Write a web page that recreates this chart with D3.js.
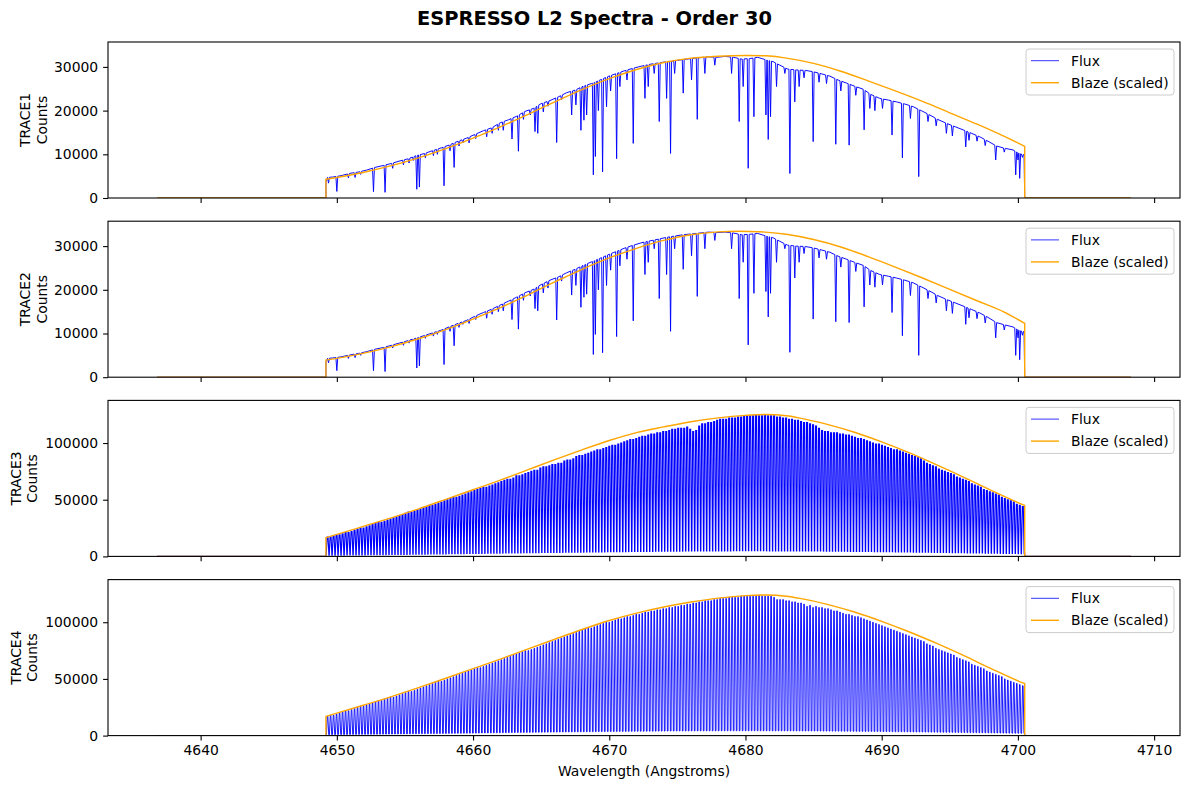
<!DOCTYPE html>
<html><head><meta charset="utf-8">
<script src="https://cdn.jsdelivr.net/npm/d3@7"></script>
<style>
body{margin:0;background:#fff}
svg{display:block}
text{font-family:"DejaVu Sans",sans-serif}
</style></head>
<body><svg id="chart" width="1189" height="788"></svg>
<script>
// ---------------- DATA ----------------
const chartTitle = "ESPRESSO L2 Spectra - Order 30";
const traceNames = ["TRACE1", "TRACE2", "TRACE3", "TRACE4"];
const xLabel = "Wavelength (Angstroms)";
const legendLabels = ["Flux", "Blaze (scaled)"];
const xTicks = [4640, 4650, 4660, 4670, 4680, 4690, 4700, 4710];
const yTicksLow = [0, 10000, 20000, 30000];
const yTicksHigh = [0, 50000, 100000];
const xDomain = [4633.2, 4711.9];
const yMaxLow = 35700, yMaxHigh = 137600;
const waveRange = [4636.8, 4708.3];      // full wavelength grid of the order
const orderRange = [4649.2, 4700.5];     // illuminated part of the order

// TRACE1 continuum [wavelength, counts]
const trace1Continuum = [[4649.20,3600],[4649.30,4700],[4649.70,4800],[4650.30,5100],[4650.97,5650],[4651.60,5950],[4652.20,6400],[4652.80,7000],[4653.42,7450],[4654.00,7900],[4654.64,8500],[4655.20,8950],[4655.87,9750],[4656.40,10150],[4657.09,10900],[4657.70,11500],[4658.31,12200],[4658.90,13000],[4659.53,13700],[4660.10,14500],[4660.76,15400],[4661.40,16100],[4661.98,17200],[4662.60,17900],[4663.20,18700],[4663.80,19800],[4664.43,20500],[4665.00,21600],[4665.65,22300],[4666.30,23200],[4666.87,24100],[4667.50,24700],[4668.09,25600],[4668.70,26200],[4669.32,27000],[4669.90,27800],[4670.54,28500],[4671.10,29100],[4671.76,29700],[4672.40,30200],[4672.99,30600],[4673.60,30900],[4674.21,31200],[4674.80,31400],[4675.43,31700],[4676.04,31900],[4676.65,32100],[4677.30,32300],[4677.90,32200],[4678.50,32400],[4679.10,32200],[4679.70,31800],[4680.30,31900],[4680.90,32200],[4681.30,31800],[4682.03,31200],[4682.52,30400],[4683.10,29500],[4683.75,29300],[4684.40,29200],[4684.97,28900],[4685.60,28400],[4686.19,27900],[4686.80,27000],[4687.42,26300],[4688.00,25600],[4688.64,24900],[4689.20,23700],[4689.86,22800],[4690.50,22400],[4691.08,22000],[4691.70,21500],[4692.31,20900],[4692.90,20000],[4693.53,19000],[4694.10,18000],[4694.75,17100],[4695.40,16300],[4695.97,15600],[4696.60,14800],[4697.20,14000],[4697.80,13000],[4698.42,11900],[4699.00,11400],[4699.64,11000],[4700.10,10200],[4700.45,9900]];
// TRACE1 absorption lines [wavelength, minimum counts]
const trace1Lines = [[4649.39,3400],[4650.00,1500],[4650.85,4600],[4651.34,4700],[4651.75,5400],[4652.69,1450],[4653.54,1300],[4654.10,6800],[4654.89,7600],[4655.30,8000],[4655.62,8600],[4655.87,2000],[4656.06,2500],[4656.50,9200],[4657.09,9700],[4657.38,10000],[4657.87,2800],[4658.31,10800],[4658.61,7000],[4658.97,11900],[4659.25,12600],[4659.71,12600],[4660.20,13600],[4661.00,14000],[4661.40,14800],[4661.86,15500],[4662.22,15500],[4662.86,13500],[4663.33,10700],[4663.70,18000],[4664.20,19000],[4664.55,15200],[4664.75,14800],[4665.16,19700],[4665.50,21000],[4666.14,12700],[4666.50,22500],[4667.24,19000],[4667.55,21300],[4667.92,15500],[4668.14,17800],[4668.34,19000],[4668.83,5300],[4668.98,9500],[4669.20,20000],[4669.51,6000],[4669.80,20900],[4670.10,24500],[4670.54,9000],[4670.78,25500],[4671.30,27000],[4671.76,12500],[4672.62,22800],[4672.86,25500],[4673.30,28500],[4673.67,17500],[4674.21,22800],[4674.50,10200],[4674.80,28500],[4675.43,24000],[4676.04,27000],[4676.46,18000],[4677.02,28500],[4677.75,30400],[4678.98,28500],[4679.54,17500],[4679.83,25500],[4680.20,6800],[4680.62,18600],[4681.50,19000],[4681.67,13400],[4681.84,18600],[4682.28,25500],[4682.89,28500],[4683.26,5600],[4683.62,22000],[4683.94,25500],[4684.30,27500],[4684.97,12900],[4685.40,26500],[4685.95,26200],[4686.63,12300],[4687.00,24500],[4687.61,12100],[4688.10,23500],[4688.71,15600],[4689.13,20500],[4689.50,20000],[4690.06,20500],[4690.76,14400],[4691.52,9200],[4692.11,18200],[4692.72,4900],[4693.40,17500],[4694.00,16500],[4694.75,14800],[4695.19,14200],[4696.17,11700],[4696.41,13200],[4697.00,13000],[4697.60,12000],[4698.37,8700],[4699.00,10500],[4699.84,5300],[4700.01,8700],[4700.13,4500],[4700.33,9300]];
// TRACE1 blaze (scaled) [wavelength, counts]
const trace1Blaze = [[4649.2,4300],[4650,4700],[4652,5900],[4654,7400],[4656,9200],[4658,11300],[4660,13700],[4662,16300],[4664,19100],[4666,22000],[4668,24800],[4670,27300],[4672,29400],[4674,31000],[4676,32000],[4678,32450],[4680,32600],[4681.5,32550],[4683,32000],[4685,30800],[4687,29000],[4689,26800],[4691,24500],[4693,22100],[4695,19500],[4697,16900],[4699,14100],[4700.5,11800]];

// TRACE2
const trace2Continuum = [[4649.20,3500],[4649.30,4300],[4649.70,4400],[4650.30,4650],[4650.97,5100],[4651.60,5450],[4652.20,5850],[4652.80,6400],[4653.42,6800],[4654.00,7300],[4654.64,7850],[4655.20,8350],[4655.87,9000],[4656.40,9500],[4657.09,10200],[4657.70,10800],[4658.31,11600],[4658.90,12300],[4659.53,13000],[4660.10,13900],[4660.76,14800],[4661.40,15600],[4661.98,16500],[4662.60,17400],[4663.20,18300],[4663.80,19300],[4664.43,20100],[4665.00,21200],[4665.65,22200],[4666.30,23000],[4666.87,23900],[4667.50,24700],[4668.09,25600],[4668.70,26400],[4669.32,27200],[4669.90,28000],[4670.54,28800],[4671.10,29500],[4671.76,30200],[4672.40,30800],[4672.99,31200],[4673.60,31600],[4674.21,32000],[4674.80,32300],[4675.43,32600],[4676.04,32800],[4676.65,33000],[4677.30,33200],[4677.90,33100],[4678.50,33200],[4679.10,33000],[4679.70,32600],[4680.30,32700],[4680.90,32900],[4681.30,32500],[4682.03,31900],[4682.52,31100],[4683.10,30200],[4683.75,30000],[4684.40,29900],[4684.97,29600],[4685.60,29100],[4686.19,28600],[4686.80,27700],[4687.42,27000],[4688.00,26300],[4688.64,25600],[4689.20,24400],[4689.86,23500],[4690.50,23100],[4691.08,22700],[4691.70,22200],[4692.31,21600],[4692.90,20700],[4693.53,19700],[4694.10,18700],[4694.75,17800],[4695.40,17000],[4695.97,16300],[4696.60,15500],[4697.20,14700],[4697.80,13700],[4698.42,12500],[4699.00,12000],[4699.64,11500],[4700.10,10700],[4700.45,10400]];
const trace2Lines = [[4649.39,3300],[4650.00,1500],[4650.85,4300],[4651.34,4500],[4651.75,5000],[4652.69,1500],[4653.54,1300],[4654.10,6700],[4654.89,7300],[4655.30,7800],[4655.62,8400],[4655.87,2100],[4656.06,2600],[4656.50,8900],[4657.09,9400],[4657.38,9800],[4657.87,2900],[4658.31,10500],[4658.61,7200],[4658.97,11400],[4659.25,12100],[4659.71,12300],[4660.20,13200],[4661.00,13500],[4661.40,14400],[4661.86,15000],[4662.22,15200],[4662.86,13200],[4663.33,11000],[4663.70,17600],[4664.20,18600],[4664.55,15700],[4664.75,15200],[4665.16,19300],[4665.50,20400],[4666.14,13100],[4666.50,22000],[4667.24,18800],[4667.55,21000],[4667.92,16000],[4668.14,18300],[4668.34,19000],[4668.83,5200],[4668.98,9800],[4669.20,20000],[4669.51,5600],[4669.80,21000],[4670.10,24500],[4670.54,9300],[4670.78,25500],[4671.30,27000],[4671.76,12900],[4672.62,23500],[4672.86,26300],[4673.30,29400],[4673.67,18000],[4674.21,23500],[4674.50,10500],[4674.80,29400],[4675.43,24700],[4676.04,27800],[4676.46,18500],[4677.02,29400],[4677.75,31300],[4678.98,29400],[4679.54,18000],[4679.83,26300],[4680.20,7400],[4680.62,19200],[4681.50,19600],[4681.67,13800],[4681.84,19200],[4682.28,26300],[4682.89,29400],[4683.26,5700],[4683.62,22700],[4683.94,26300],[4684.30,28300],[4684.97,13300],[4685.40,27300],[4685.95,27000],[4686.63,12700],[4687.00,25200],[4687.61,12500],[4688.10,24200],[4688.71,16100],[4689.13,21100],[4689.50,20600],[4690.06,21100],[4690.76,14800],[4691.52,9500],[4692.11,18700],[4692.72,5000],[4693.40,18000],[4694.00,17000],[4694.75,15200],[4695.19,14600],[4696.17,12100],[4696.41,13600],[4697.00,13400],[4697.60,12400],[4698.37,9000],[4699.00,10800],[4699.84,5000],[4700.01,9000],[4700.13,4000],[4700.33,9600]];
const trace2Blaze = [[4649.2,3900],[4650,4300],[4652,5500],[4654,7000],[4656,8800],[4658,10900],[4660,13300],[4662,15900],[4664,18800],[4666,21800],[4668,24700],[4670,27300],[4672,29500],[4674,31300],[4676,32600],[4678,33250],[4679.5,33400],[4681,33300],[4683,32700],[4685,31500],[4687,29800],[4689,27600],[4691,25200],[4693,22700],[4695,20100],[4697,17500],[4699,14900],[4700.5,12300]];

// Fabry-Perot comb lines (TRACE3 / TRACE4), wavelengths
const combWave = [
4649.32,4649.54,4649.76,4649.98,4650.20,4650.42,4650.64,4650.86,4651.08,4651.30,
4651.52,4651.74,4651.96,4652.18,4652.40,4652.62,4652.84,4653.06,4653.28,4653.50,
4653.72,4653.94,4654.16,4654.38,4654.60,4654.82,4655.04,4655.26,4655.48,4655.70,
4655.92,4656.14,4656.36,4656.58,4656.80,4657.02,4657.24,4657.46,4657.68,4657.90,
4658.12,4658.34,4658.56,4658.78,4659.00,4659.22,4659.44,4659.66,4659.88,4660.10,
4660.32,4660.54,4660.76,4660.98,4661.20,4661.42,4661.64,4661.86,4662.08,4662.30,
4662.52,4662.74,4662.96,4663.18,4663.40,4663.62,4663.84,4664.06,4664.28,4664.50,
4664.72,4664.94,4665.16,4665.38,4665.60,4665.82,4666.04,4666.26,4666.48,4666.70,
4666.92,4667.14,4667.36,4667.58,4667.80,4668.02,4668.24,4668.46,4668.68,4668.90,
4669.12,4669.34,4669.56,4669.78,4670.00,4670.22,4670.44,4670.66,4670.88,4671.10,
4671.32,4671.54,4671.76,4671.98,4672.20,4672.42,4672.64,4672.86,4673.08,4673.30,
4673.52,4673.74,4673.96,4674.18,4674.40,4674.62,4674.84,4675.06,4675.28,4675.50,
4675.72,4675.94,4676.16,4676.38,4676.60,4676.82,4677.04,4677.26,4677.48,4677.70,
4677.92,4678.14,4678.36,4678.58,4678.80,4679.02,4679.24,4679.46,4679.68,4679.90,
4680.12,4680.34,4680.56,4680.78,4681.00,4681.22,4681.44,4681.66,4681.88,4682.10,
4682.32,4682.54,4682.76,4682.98,4683.20,4683.42,4683.64,4683.86,4684.08,4684.30,
4684.52,4684.74,4684.96,4685.18,4685.40,4685.62,4685.84,4686.06,4686.28,4686.50,
4686.72,4686.94,4687.16,4687.38,4687.60,4687.82,4688.04,4688.26,4688.48,4688.70,
4688.92,4689.14,4689.36,4689.58,4689.80,4690.02,4690.24,4690.46,4690.68,4690.90,
4691.12,4691.34,4691.56,4691.78,4692.00,4692.22,4692.44,4692.66,4692.88,4693.10,
4693.32,4693.54,4693.76,4693.98,4694.20,4694.42,4694.64,4694.86,4695.08,4695.30,
4695.52,4695.74,4695.96,4696.18,4696.40,4696.62,4696.84,4697.06,4697.28,4697.50,
4697.72,4697.94,4698.16,4698.38,4698.60,4698.82,4699.04,4699.26,4699.48,4699.70,
4699.92,4700.14,4700.36];
// comb peak heights, thousands of counts
const trace3PeakK = [
17,17,18,19,19,20,21,21,22,23,24,25,25,26,27,28,29,30,30,31,32,33,34,35,36,37,38,39,39,40,41,42,43,44,45,45,46,47,48,49,50,51,52,52,53,54,55,56,57,58,
59,60,61,61,62,63,64,65,66,67,68,68,69,71,71,72,73,74,75,76,76,78,79,79,80,81,81,82,82,84,85,85,86,88,89,89,90,91,92,93,94,94,95,96,97,98,98,99,100,101,
102,103,103,104,105,106,106,107,108,108,109,109,110,110,111,112,112,113,113,113,114,112,110,111,115,117,117,118,118,119,120,121,121,121,122,122,122,123,123,124,124,124,124,125,124,124,125,124,124,124,
123,123,122,122,121,121,120,120,119,118,118,117,116,115,113,111,110,110,109,109,109,108,108,107,107,106,105,104,104,103,102,101,100,99,99,98,97,96,95,94,94,93,92,91,90,89,88,87,86,84,
82,81,80,79,77,76,75,74,73,72,70,69,68,67,66,64,63,62,61,59,58,57,56,55,54,52,51,50,49,48,46,45,44];
const trace4PeakK = [
17,18,18,19,20,21,22,22,23,24,25,26,26,27,28,29,30,31,31,32,33,34,34,35,36,37,38,39,39,40,41,42,43,44,45,46,47,48,48,49,50,51,52,53,54,55,56,57,58,59,
60,60,61,62,63,64,65,66,67,68,69,70,71,72,73,74,75,75,76,77,78,79,80,81,82,83,84,85,86,87,88,89,90,91,92,93,94,95,95,96,97,98,99,100,100,101,102,103,103,104,
105,105,106,107,107,108,109,109,110,110,111,111,112,112,113,113,114,114,115,115,116,116,117,117,118,118,119,119,119,120,120,121,121,121,122,122,122,122,123,123,123,123,123,123,124,123,123,123,123,122,
120,120,120,119,119,118,118,117,117,116,114,115,113,114,113,113,112,112,111,110,110,109,108,107,107,106,105,105,104,103,102,101,100,99,98,97,96,95,94,93,92,91,90,89,88,87,86,85,84,83,
81,80,79,77,76,75,74,73,72,71,69,68,67,66,65,63,62,61,60,59,57,56,55,54,53,52,50,49,48,47,46,45,44];
// inter-line background level, thousands of counts
const trace3BaseK = [[4649.2,1.0],[4655,1.8],[4660,2.6],[4665,3.4],[4670,4.1],[4675,4.7],[4680,5.0],[4685,4.8],[4690,4.2],[4695,3.4],[4700.5,2.4]];
const trace4BaseK = [[4649.2,0.8],[4655,1.5],[4660,2.2],[4665,3.0],[4670,3.6],[4675,4.1],[4680,4.3],[4685,4.1],[4690,3.6],[4695,2.9],[4700.5,2.0]];
// blaze (scaled), thousands of counts
const trace3BlazeK = [[4649.2,16.5],[4650,19.4],[4652,26.7],[4654,34.0],[4656,41.9],[4658,50.3],[4660,58.8],[4662,67.3],[4664,76.3],[4666,85.3],[4668,94.0],[4670,102.2],[4672,109.2],[4674,114.2],[4676,118.8],[4678,122.2],[4680,124.4],[4681.5,125.2],[4683,124.0],[4684,122.0],[4686,116.5],[4688,109.5],[4690,101.0],[4692,91.5],[4694,81.0],[4696,70.0],[4698,58.5],[4700,47.5],[4700.5,45.0]];
const trace4BlazeK = [[4649.2,17.0],[4650,19.8],[4652,27.0],[4654,34.4],[4656,42.3],[4658,50.6],[4660,59.0],[4662,67.5],[4664,76.3],[4666,85.0],[4668,93.6],[4670,101.5],[4672,108.0],[4674,113.4],[4676,117.8],[4678,121.3],[4680,123.5],[4681.5,124.0],[4683,122.9],[4684,121.0],[4686,115.8],[4688,109.0],[4690,100.8],[4692,91.6],[4694,81.5],[4696,70.7],[4698,59.3],[4700,48.3],[4700.5,45.9]];

// ---------------- BUILD SERIES ----------------
const LINE_HW = 0.07;
function absorptionSeries(cont, lines) {
  const c = d3.scaleLinear().domain(cont.map(d => d[0])).range(cont.map(d => d[1]));
  const pts = cont.filter(k => !lines.some(l => Math.abs(l[0] - k[0]) < LINE_HW * 1.3)).map(d => [d[0], d[1]]);
  lines.forEach(([w, m]) => { pts.push([w - LINE_HW, c(w - LINE_HW)], [w, m], [w + LINE_HW, c(w + LINE_HW)]); });
  pts.sort((a, b) => a[0] - b[0]);
  return [[waveRange[0], 0], [orderRange[0], 0]].concat(pts, [[orderRange[1], 0], [waveRange[1], 0]]);
}
// each comb line drawn as a narrow profile: foot half-width hw, top half-width tw
function combSeries(waves, peaksK, baseK, hw, tw) {
  const b = d3.scaleLinear().domain(baseK.map(d => d[0])).range(baseK.map(d => d[1] * 1000));
  const pts = [[waveRange[0], 0], [orderRange[0], 0], [orderRange[0], b(orderRange[0])]];
  waves.forEach((w, i) => {
    const pk = peaksK[i] * 1000;
    pts.push([w - hw, b(w - hw)], [w - tw, pk], [w + tw, pk], [w + hw, b(w + hw)]);
  });
  pts.push([orderRange[1], b(orderRange[1])], [orderRange[1], 0], [waveRange[1], 0]);
  return pts;
}
const kToCounts = arr => arr.map(d => [d[0], d[1] * 1000]);

const panels = [
  {name: traceNames[0], yMax: yMaxLow, yTicks: yTicksLow, flux: absorptionSeries(trace1Continuum, trace1Lines), blaze: trace1Blaze, fw: 0.95, labX: 46.5},
  {name: traceNames[1], yMax: yMaxLow, yTicks: yTicksLow, flux: absorptionSeries(trace2Continuum, trace2Lines), blaze: trace2Blaze, fw: 0.95, labX: 46.5},
  {name: traceNames[2], yMax: yMaxHigh, yTicks: yTicksHigh, flux: combSeries(combWave, trace3PeakK, trace3BaseK, 0.1, 0.035), blaze: kToCounts(trace3BlazeK), fw: 1.15, labX: 37},
  {name: traceNames[3], yMax: yMaxHigh, yTicks: yTicksHigh, flux: combSeries(combWave, trace4PeakK, trace4BaseK, 0.085, 0.02), blaze: kToCounts(trace4BlazeK), fw: 0.9, labX: 37}
];

// ---------------- DRAW ----------------
const svg = d3.select("#chart");
const L = 108, R = 1180, TOP0 = 42, PH = 156, STEP = 179.2, FS = 13.9;
const x = d3.scaleLinear().domain(xDomain).range([L, R]);
const defs = svg.append("defs");

svg.append("text").attr("x", 594.5).attr("y", 25).attr("text-anchor", "middle")
  .attr("font-size", 19.4).attr("font-weight", "bold").text(chartTitle);

panels.forEach((p, i) => {
  const top = TOP0 + i * STEP, bottom = top + PH;
  const y = d3.scaleLinear().domain([0, p.yMax]).range([bottom, top]);
  defs.append("clipPath").attr("id", "clip" + i).append("rect")
    .attr("x", L).attr("y", top).attr("width", R - L).attr("height", PH);
  const g = svg.append("g");
  const line = d3.line().x(d => x(d[0])).y(d => y(d[1]));
  g.append("path").attr("clip-path", `url(#clip${i})`).attr("d", line(p.flux))
    .attr("fill", "none").attr("stroke", "#0000ff").attr("stroke-width", p.fw).attr("stroke-linejoin", "miter");
  const curve = d3.line().x(d => x(d[0])).y(d => y(d[1])).curve(d3.curveMonotoneX)(p.blaze);
  const bd = `M${x(waveRange[0])},${y(0)}L${x(orderRange[0])},${y(0)}L` + curve.slice(1) +
    `L${x(orderRange[1])},${y(0)}L${x(waveRange[1])},${y(0)}`;
  g.append("path").attr("clip-path", `url(#clip${i})`).attr("d", bd)
    .attr("fill", "none").attr("stroke", "#ffa500").attr("stroke-width", 1.4);

  // axes
  const ya = g.append("g").attr("transform", `translate(${L},0)`)
    .call(d3.axisLeft(y).tickValues(p.yTicks).tickSize(4.9).tickPadding(4.9).tickFormat(d3.format("d")));
  const xa = g.append("g").attr("transform", `translate(0,${bottom})`)
    .call(d3.axisBottom(x).tickValues(xTicks).tickSize(4.9).tickPadding(4.9)
      .tickFormat(i === 3 ? d3.format("d") : () => ""));
  [ya, xa].forEach(a => {
    a.select(".domain").remove();
    a.attr("font-family", null).attr("font-size", null);
    a.selectAll("line").attr("stroke", "#000").attr("stroke-width", 1.1);
    a.selectAll("text").attr("fill", "#000").attr("font-size", FS).attr("font-family", "DejaVu Sans, sans-serif");
  });
  g.append("rect").attr("x", L).attr("y", top).attr("width", R - L).attr("height", PH)
    .attr("fill", "none").attr("stroke", "#000").attr("stroke-width", 1.1);

  // y label (two lines)
  const cy = top + PH / 2;
  [[p.name, p.labX - 16.5], ["Counts", p.labX]].forEach(([t, bx]) => {
    g.append("text").attr("transform", `translate(${bx},${cy}) rotate(-90)`)
      .attr("text-anchor", "middle").attr("font-size", FS).text(t);
  });

  // legend
  const lx = R - 6 - 148, ly = top + 7;
  const lg = g.append("g");
  lg.append("rect").attr("x", lx).attr("y", ly).attr("width", 148).attr("height", 46).attr("rx", 3)
    .attr("fill", "#fff").attr("fill-opacity", 0.8).attr("stroke", "#cccccc").attr("stroke-width", 1);
  [["#0000ff", 0.8, legendLabels[0], 11.7, 16.7], ["#ffa500", 1.4, legendLabels[1], 33.7, 38.5]].forEach(([c, w, t, lyOff, tyOff]) => {
    lg.append("line").attr("x1", lx + 5).attr("x2", lx + 33).attr("y1", ly + lyOff).attr("y2", ly + lyOff)
      .attr("stroke", c).attr("stroke-width", w);
    lg.append("text").attr("x", lx + 45).attr("y", ly + tyOff).attr("font-size", FS).text(t);
  });
});

svg.append("text").attr("x", (L + R) / 2).attr("y", 776).attr("text-anchor", "middle")
  .attr("font-size", FS).text(xLabel);
</script>
</body></html>
